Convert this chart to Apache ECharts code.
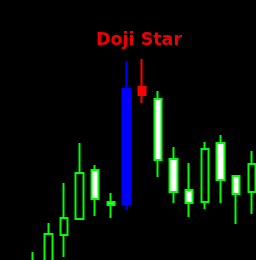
<!DOCTYPE html>
<html>
<head>
<meta charset="utf-8">
<style>
  html, body { margin: 0; padding: 0; background: #000; }
  #chart { width: 256px; height: 260px; }
</style>
<script src="https://cdn.jsdelivr.net/npm/echarts@6/dist/echarts.min.js"></script>
</head>
<body>
<div id="chart"></div>
<script>
// bars, oldest first; price in chart units
var times = ['10:00', '11:00', '12:00', '13:00', '14:00', '15:00', '16:00', '17:00',
             '18:00', '19:00', '20:00', '21:00', '22:00', '23:00', '00:00'];
var opens  = [-25, -10, 25, 41, 90, 58, 56, 173, 161, 101, 70, 58, 117, 84, 68];
var closes = [-6, 26, 42, 87, 61, 55, 171, 165, 100, 68, 57, 111, 80, 66, 96];
var lows   = [-30, -15, 3, 41, 44, 42, 50, 157, 83, 57, 43, 51, 57, 36, 46];
var highs  = [8, 37, 77, 117, 95, 67, 199, 201, 169, 113, 97, 118, 125, 84, 109];

// pattern bars: index -> colour
var patternBars = { 6: '#0000ff', 7: '#ff0000' };
var label = 'Doji Star';

var lime = '#00ff00';

var data = times.map(function (t, i) {
  var item = { value: [opens[i], closes[i], lows[i], highs[i]] };
  var c = patternBars[i];
  if (c) {
    item.itemStyle = { color: c, color0: c, borderColor: c, borderColor0: c };
  }
  return item;
});

var chart = echarts.init(document.getElementById('chart'), null, { renderer: 'canvas' });
chart.setOption({
  animation: false,
  backgroundColor: '#000',
  title: {
    text: label,
    left: 91,
    top: 26,
    textStyle: {
      color: '#ee0000',
      fontFamily: 'DejaVu Sans',
      fontWeight: 'bold',
      fontSize: 17.5
    }
  },
  // first and last bar sit on the grid edges
  grid: { left: 32.6, width: 219.2, top: 0, bottom: 0 },
  xAxis: {
    type: 'category',
    data: times,
    boundaryGap: false,
    show: false
  },
  yAxis: {
    type: 'value',
    min: 0,
    max: 260,
    show: false
  },
  series: [{
    type: 'candlestick',
    data: data,
    barWidth: 8,
    clip: false,
    itemStyle: {
      color: '#000',
      color0: '#fff',
      borderColor: lime,
      borderColor0: lime,
      borderWidth: 2
    }
  }]
});
</script>
</body>
</html>
